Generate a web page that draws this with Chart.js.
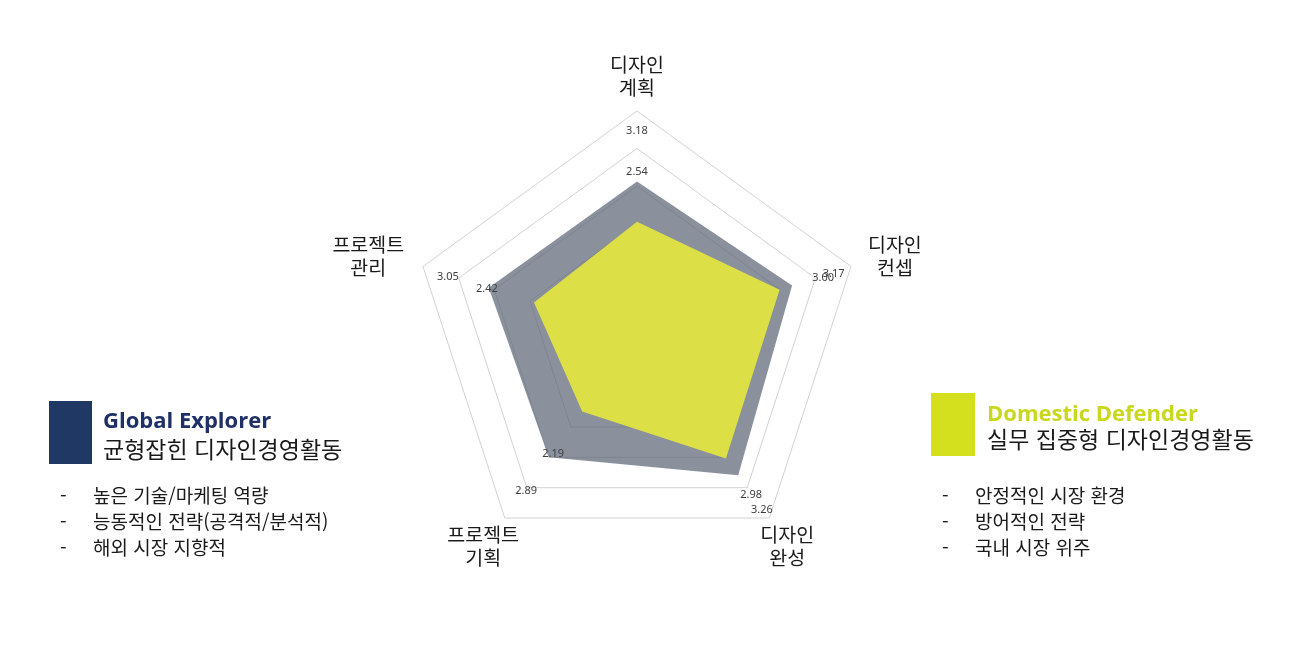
<!DOCTYPE html>
<html lang="ko">
<head>
<meta charset="utf-8">
<script src="https://cdn.jsdelivr.net/npm/chart.js@4.4.1/dist/chart.umd.min.js"></script>
<style>
  body { margin: 0; background: #fff; }
  #wrap { position: relative; width: 1298px; height: 648px; overflow: hidden; }
  #radar { position: absolute; left: 0; top: 0; }
  .box { position: absolute; }
  .title { position: absolute; font-family: "Open Sans", sans-serif; font-weight: 700; font-size: 22px; line-height: 26px; white-space: nowrap; }
  .sub { position: absolute; font-family: "Noto Sans CJK KR", sans-serif; font-size: 23px; line-height: 28px; color: #1a1a1a; white-space: nowrap; }
  .row { position: absolute; font-family: "Noto Sans CJK KR", sans-serif; font-size: 19px; line-height: 24px; color: #1a1a1a; white-space: nowrap; }
</style>
</head>
<body>
<div id="wrap">
  <canvas id="radar" width="1298" height="648"></canvas>

  <div class="box" style="left:49px;top:401px;width:43px;height:63px;background:#1f3864"></div>
  <div class="title" style="left:103px;top:406px;color:#1f3068">Global Explorer</div>
  <div class="sub" style="left:103px;top:434px">균형잡힌 디자인경영활동</div>

  <div class="box" style="left:931px;top:393px;width:44px;height:63px;background:#d4df1e"></div>
  <div class="title" style="left:987px;top:399px;color:#c9d81c">Domestic Defender</div>
  <div class="sub" style="left:987px;top:424px">실무 집중형 디자인경영활동</div>
</div>

<script>
// 축 이름
let categories = [['디자인', '계획'], ['디자인', '컨셉'], ['디자인', '완성'], ['프로젝트', '기획'], ['프로젝트', '관리']];

// 다각형 값
let globalValues = [2.37, 2.50, 2.64, 2.30, 2.39];
let domesticValues = [1.75, 2.30, 2.32, 1.43, 1.66];

// 축 위에 적힌 점수
let globalScores = [3.18, 3.17, 3.26, 2.89, 3.05];
let domesticScores = [2.54, 3.00, 2.98, 2.19, 2.42];

let scaleMax = 3.45;

// 옆 설명
let globalNotes = ['높은 기술/마케팅 역량', '능동적인 전략(공격적/분석적)', '해외 시장 지향적'];
let domesticNotes = ['안정적인 시장 환경', '방어적인 전략', '국내 시장 위주'];

function addNotes(notes, dashX, textX) {
    let wrap = document.getElementById("wrap");
    notes.forEach((t, i) => {
        let top = 483 + i * 26;
        let d = document.createElement("div");
        d.className = "row";
        d.style.left = dashX + "px";
        d.style.top = top + "px";
        d.textContent = "-";
        wrap.appendChild(d);

        let s = document.createElement("div");
        s.className = "row";
        s.style.left = textX + "px";
        s.style.top = top + "px";
        s.textContent = t;
        wrap.appendChild(s);
    });
}
addNotes(globalNotes, 60, 93);
addNotes(domesticNotes, 942, 975);

// 점수, 축 이름 그리기
let radarText = {
    id: 'radarText',
    afterDatasetsDraw(chart) {
        let ctx = chart.ctx;
        let r = chart.scales.r;
        ctx.save();

        ctx.font = '11px "Noto Sans", sans-serif';
        ctx.fillStyle = '#404040';
        ctx.textAlign = 'center';
        ctx.textBaseline = 'middle';
        [globalScores, domesticScores].forEach(arr => {
            arr.forEach((v, i) => {
                let p = r.getPointPosition(i, r.getDistanceFromCenterForValue(v));
                ctx.fillText(v.toFixed(2), p.x, p.y + 2);
            });
        });

        ctx.font = '19.5px "Noto Sans CJK KR", sans-serif';
        ctx.fillStyle = '#1a1a1a';
        let lineH = 23;
        chart.data.labels.forEach((lines, i) => {
            let a = r.getIndexAngle(i);
            let p = r.getPointPosition(i, r.drawingArea + 12);
            let w = Math.max(...lines.map(l => ctx.measureText(l).width)) / 2;
            let h = lines.length * lineH / 2;
            let cx = p.x + Math.sin(a) * w * (Math.cos(a) > 0 ? 1.27 : 0.69);
            let cy = p.y - Math.cos(a) * h;
            lines.forEach((l, k) => {
                ctx.fillText(l, cx, cy - h + lineH / 2 + k * lineH);
            });
        });
        ctx.restore();
    }
};

let ctx = document.getElementById('radar').getContext('2d');
let myChart = new Chart(ctx, {
    type: 'radar',
    data: {
        labels: categories,
        datasets: [{
            label: 'Global Explorer',
            data: globalValues,
            backgroundColor: 'rgba(90, 100, 117, 0.71)',
            borderWidth: 0,
            pointRadius: 0,
            fill: true,
            order: 2
        }, {
            label: 'Domestic Defender',
            data: domesticValues,
            backgroundColor: 'rgba(226, 228, 65, 0.95)',
            borderWidth: 0,
            pointRadius: 0,
            fill: true,
            order: 1
        }]
    },
    options: {
        responsive: false,
        animation: false,
        devicePixelRatio: 1,
        layout: { padding: { left: 412, right: 436, top: 111, bottom: 87 } },
        plugins: {
            legend: { display: false },
            tooltip: { enabled: false }
        },
        scales: {
            r: {
                min: 0,
                max: scaleMax,
                ticks: { display: false, count: 7 },
                grid: { color: '#d2d2d2', lineWidth: 1 },
                angleLines: { display: false },
                pointLabels: { display: false }
            }
        }
    },
    plugins: [radarText]
});
</script>
</body>
</html>
